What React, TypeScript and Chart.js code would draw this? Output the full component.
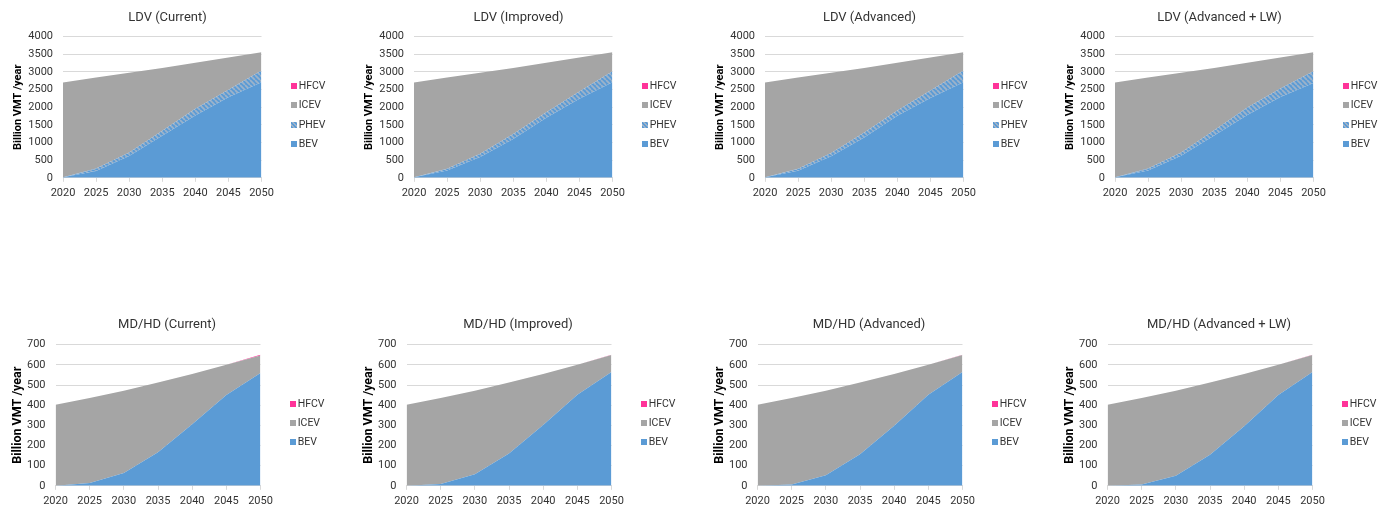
import React, { useEffect, useRef } from 'react';
import { Chart, registerables } from 'chart.js';

Chart.register(...registerables);

// ---------- categories / ticks ----------
const years = ['2020', '2025', '2030', '2035', '2040', '2045', '2050'];
const ldvMax = 4000;
const ldvStep = 500;
const mdhdMax = 700;
const mdhdStep = 100;
const axisTitle = 'Billion VMT /year';

// ---------- LDV (Current) ----------
const ldvCurrentBEV = [15, 195, 620, 1190, 1765, 2285, 2710];
const ldvCurrentPHEV = [0, 70, 95, 145, 190, 210, 335];
const ldvCurrentICEV = [2685, 2575, 2260, 1775, 1305, 915, 515];
const ldvCurrentHFCV = [0, 0, 0, 0, 0, 0, 0];

// ---------- LDV (Improved) ----------
const ldvImprovedBEV = [15, 205, 590, 1100, 1700, 2240, 2710];
const ldvImprovedPHEV = [0, 50, 95, 140, 160, 210, 310];
const ldvImprovedICEV = [2685, 2585, 2290, 1870, 1400, 960, 540];
const ldvImprovedHFCV = [0, 0, 0, 0, 0, 0, 0];

// ---------- LDV (Advanced) ----------
const ldvAdvancedBEV = [15, 200, 610, 1145, 1760, 2260, 2710];
const ldvAdvancedPHEV = [0, 60, 95, 140, 150, 215, 335];
const ldvAdvancedICEV = [2685, 2580, 2270, 1825, 1350, 935, 515];
const ldvAdvancedHFCV = [0, 0, 0, 0, 0, 0, 0];

// ---------- LDV (Advanced + LW) ----------
const ldvAdvLwBEV = [15, 205, 625, 1200, 1780, 2290, 2690];
const ldvAdvLwPHEV = [0, 60, 95, 150, 210, 240, 330];
const ldvAdvLwICEV = [2685, 2575, 2255, 1760, 1270, 880, 540];
const ldvAdvLwHFCV = [0, 0, 0, 0, 0, 0, 0];

// ---------- MD/HD (Current) ----------
const mdhdCurrentBEV = [0, 14, 63, 166, 305, 450, 559];
const mdhdCurrentICEV = [402, 421, 409, 347, 250, 150, 88];
const mdhdCurrentHFCV = [0, 0, 0, 0, 0, 0, 3];

// ---------- MD/HD (Improved) ----------
const mdhdImprovedBEV = [0, 9, 57, 160, 302, 452, 564];
const mdhdImprovedICEV = [402, 426, 415, 353, 253, 148, 85];
const mdhdImprovedHFCV = [0, 0, 0, 0, 0, 0, 1];

// ---------- MD/HD (Advanced) ----------
const mdhdAdvancedBEV = [0, 7, 52, 156, 298, 452, 565];
const mdhdAdvancedICEV = [402, 428, 420, 357, 257, 148, 84];
const mdhdAdvancedHFCV = [0, 0, 0, 0, 0, 0, 1];

// ---------- MD/HD (Advanced + LW) ----------
const mdhdAdvLwBEV = [0, 6, 50, 154, 295, 451, 565];
const mdhdAdvLwICEV = [402, 429, 422, 359, 260, 149, 84];
const mdhdAdvLwHFCV = [0, 0, 0, 0, 0, 0, 1];

// ---------- styles ----------
const C_BEV = '#5B9BD5';
const C_ICEV = '#A5A5A5';
const C_HFCV = '#FF3399';
const C_PHEV_STRIPE = '#9DB3CA';
const FONT = 'Roboto, "Noto Sans", sans-serif';
const TEXT = '#333333';

type Series = { label: string; data: number[]; kind: 'BEV' | 'PHEV' | 'ICEV' | 'HFCV' };

function makePhevPattern(): CanvasPattern | string {
  const c = document.createElement('canvas');
  const s = 5;
  c.width = s;
  c.height = s;
  const ctx = c.getContext('2d');
  if (!ctx) return C_BEV;
  ctx.fillStyle = C_BEV;
  ctx.fillRect(0, 0, s, s);
  ctx.strokeStyle = C_PHEV_STRIPE;
  ctx.lineWidth = 1.8;
  ctx.beginPath();
  for (let k = -1; k <= 1; k++) {
    ctx.moveTo(k * s, 0);
    ctx.lineTo(k * s + s, s);
  }
  ctx.stroke();
  return ctx.createPattern(c, 'repeat') || C_BEV;
}

function colorFor(kind: Series['kind'], pattern: CanvasPattern | string) {
  if (kind === 'BEV') return C_BEV;
  if (kind === 'ICEV') return C_ICEV;
  if (kind === 'HFCV') return C_HFCV;
  return pattern;
}

type PanelProps = {
  title: string;
  series: Series[];
  left: number;
  top: number;
  ldv: boolean;
};

const CW = 348;
const CH = 206;

function Panel({ title, series, left, top, ldv }: PanelProps) {
  const ref = useRef<HTMLCanvasElement | null>(null);

  useEffect(() => {
    if (!ref.current) return;
    const pattern = makePhevPattern();
    const padLeft = ldv ? 11.4 : 9.9;
    const plotLeft = ldv ? 63 : 55.5;
    const chart = new Chart(ref.current, {
      type: 'line',
      data: {
        labels: years,
        datasets: series.map((s, i) => ({
          label: s.label,
          data: s.data,
          backgroundColor: colorFor(s.kind, pattern) as any,
          borderColor: 'rgba(0,0,0,0)',
          borderWidth: 0,
          pointRadius: 0,
          pointHoverRadius: 0,
          tension: 0,
          fill: i === 0 ? 'origin' : '-1',
        })),
      },
      options: {
        responsive: false,
        animation: false,
        events: [],
        layout: {
          padding: {
            left: padLeft,
            right: ldv ? 86.5 : 87.5,
            top: 36.7,
            bottom: 1,
          },
        },
        plugins: {
          legend: { display: false },
          title: { display: false },
          tooltip: { enabled: false },
        },
        scales: {
          x: {
            type: 'category',
            offset: false,
            grid: {
              drawOnChartArea: false,
              drawTicks: true,
              tickLength: 4,
              color: '#D9D9D9',
            },
            border: { color: '#D9D9D9', width: 1 },
            ticks: {
              font: { family: FONT, size: 11 },
              color: TEXT,
              padding: 5,
              maxRotation: 0,
              autoSkip: false,
            },
          },
          y: {
            stacked: true,
            min: 0,
            max: ldv ? ldvMax : mdhdMax,
            grid: { color: '#D9D9D9', drawTicks: false },
            border: { display: false },
            ticks: {
              stepSize: ldv ? ldvStep : mdhdStep,
              font: { family: FONT, size: 11 },
              color: TEXT,
              padding: 10,
              callback: (v: any) => String(v),
            },
            title: {
              display: true,
              text: axisTitle,
              color: '#000000',
              font: { family: FONT, size: ldv ? 11 : 12.5, weight: 'bold' },
              padding: { top: 0, bottom: 2 },
            },
            afterFit: (scale: any) => {
              scale.width = plotLeft - padLeft;
            },
          },
        },
      },
    });
    return () => chart.destroy();
  }, []);

  const legendItems = [...series].reverse();
  const n = legendItems.length;
  const spacing = 19.3;
  const centerY = 115;
  const boxX = ldv ? 290.5 : 289.5;
  const titleCenter = ldv ? 167.5 : 167;
  const titleTop = ldv ? 9 : 8;

  return (
    <div style={{ position: 'absolute', left, top, width: CW, height: CH }}>
      <canvas ref={ref} width={CW} height={CH} style={{ position: 'absolute', left: 0, top: 0, width: CW, height: CH }} />
      <div
        style={{
          position: 'absolute',
          left: titleCenter - 120,
          width: 240,
          top: titleTop,
          textAlign: 'center',
          font: `13px ${FONT}`,
          lineHeight: '16px',
          color: TEXT,
          whiteSpace: 'nowrap',
        }}
      >
        {title}
      </div>
      {legendItems.map((s, i) => {
        const cy = centerY + (i - (n - 1) / 2) * spacing;
        const swatch: React.CSSProperties =
          s.kind === 'PHEV'
            ? {
                background: `repeating-linear-gradient(45deg, ${C_BEV} 0px, ${C_BEV} 1.6px, ${C_PHEV_STRIPE} 1.6px, ${C_PHEV_STRIPE} 3px)`,
              }
            : { background: s.kind === 'BEV' ? C_BEV : s.kind === 'ICEV' ? C_ICEV : C_HFCV };
        return (
          <React.Fragment key={s.label}>
            <div
              style={{
                position: 'absolute',
                left: boxX,
                top: cy - 3,
                width: 6,
                height: 6,
                ...swatch,
              }}
            />
            <div
              style={{
                position: 'absolute',
                left: boxX + 8.2,
                top: cy - 7,
                font: `10.5px ${FONT}`,
                lineHeight: '14px',
                color: TEXT,
                whiteSpace: 'nowrap',
              }}
            >
              {s.label}
            </div>
          </React.Fragment>
        );
      })}
    </div>
  );
}

const colLeft = [0, 351, 702, 1052];
const rowTop = [0, 308];

function ldvSeries(bev: number[], phev: number[], icev: number[], hfcv: number[]): Series[] {
  return [
    { label: 'BEV', data: bev, kind: 'BEV' },
    { label: 'PHEV', data: phev, kind: 'PHEV' },
    { label: 'ICEV', data: icev, kind: 'ICEV' },
    { label: 'HFCV', data: hfcv, kind: 'HFCV' },
  ];
}

function mdhdSeries(bev: number[], icev: number[], hfcv: number[]): Series[] {
  return [
    { label: 'BEV', data: bev, kind: 'BEV' },
    { label: 'ICEV', data: icev, kind: 'ICEV' },
    { label: 'HFCV', data: hfcv, kind: 'HFCV' },
  ];
}

export default function App() {
  const panels: PanelProps[] = [
    { title: 'LDV (Current)', ldv: true, left: colLeft[0], top: rowTop[0], series: ldvSeries(ldvCurrentBEV, ldvCurrentPHEV, ldvCurrentICEV, ldvCurrentHFCV) },
    { title: 'LDV (Improved)', ldv: true, left: colLeft[1], top: rowTop[0], series: ldvSeries(ldvImprovedBEV, ldvImprovedPHEV, ldvImprovedICEV, ldvImprovedHFCV) },
    { title: 'LDV (Advanced)', ldv: true, left: colLeft[2], top: rowTop[0], series: ldvSeries(ldvAdvancedBEV, ldvAdvancedPHEV, ldvAdvancedICEV, ldvAdvancedHFCV) },
    { title: 'LDV (Advanced + LW)', ldv: true, left: colLeft[3], top: rowTop[0], series: ldvSeries(ldvAdvLwBEV, ldvAdvLwPHEV, ldvAdvLwICEV, ldvAdvLwHFCV) },
    { title: 'MD/HD (Current)', ldv: false, left: colLeft[0], top: rowTop[1], series: mdhdSeries(mdhdCurrentBEV, mdhdCurrentICEV, mdhdCurrentHFCV) },
    { title: 'MD/HD (Improved)', ldv: false, left: colLeft[1], top: rowTop[1], series: mdhdSeries(mdhdImprovedBEV, mdhdImprovedICEV, mdhdImprovedHFCV) },
    { title: 'MD/HD (Advanced)', ldv: false, left: colLeft[2], top: rowTop[1], series: mdhdSeries(mdhdAdvancedBEV, mdhdAdvancedICEV, mdhdAdvancedHFCV) },
    { title: 'MD/HD (Advanced + LW)', ldv: false, left: colLeft[3], top: rowTop[1], series: mdhdSeries(mdhdAdvLwBEV, mdhdAdvLwICEV, mdhdAdvLwHFCV) },
  ];
  return (
    <div style={{ position: 'absolute', left: 0, top: 0, width: 1392, height: 507, background: '#ffffff', overflow: 'hidden' }}>
      {panels.map((p) => (
        <Panel key={p.title} {...p} />
      ))}
    </div>
  );
}
